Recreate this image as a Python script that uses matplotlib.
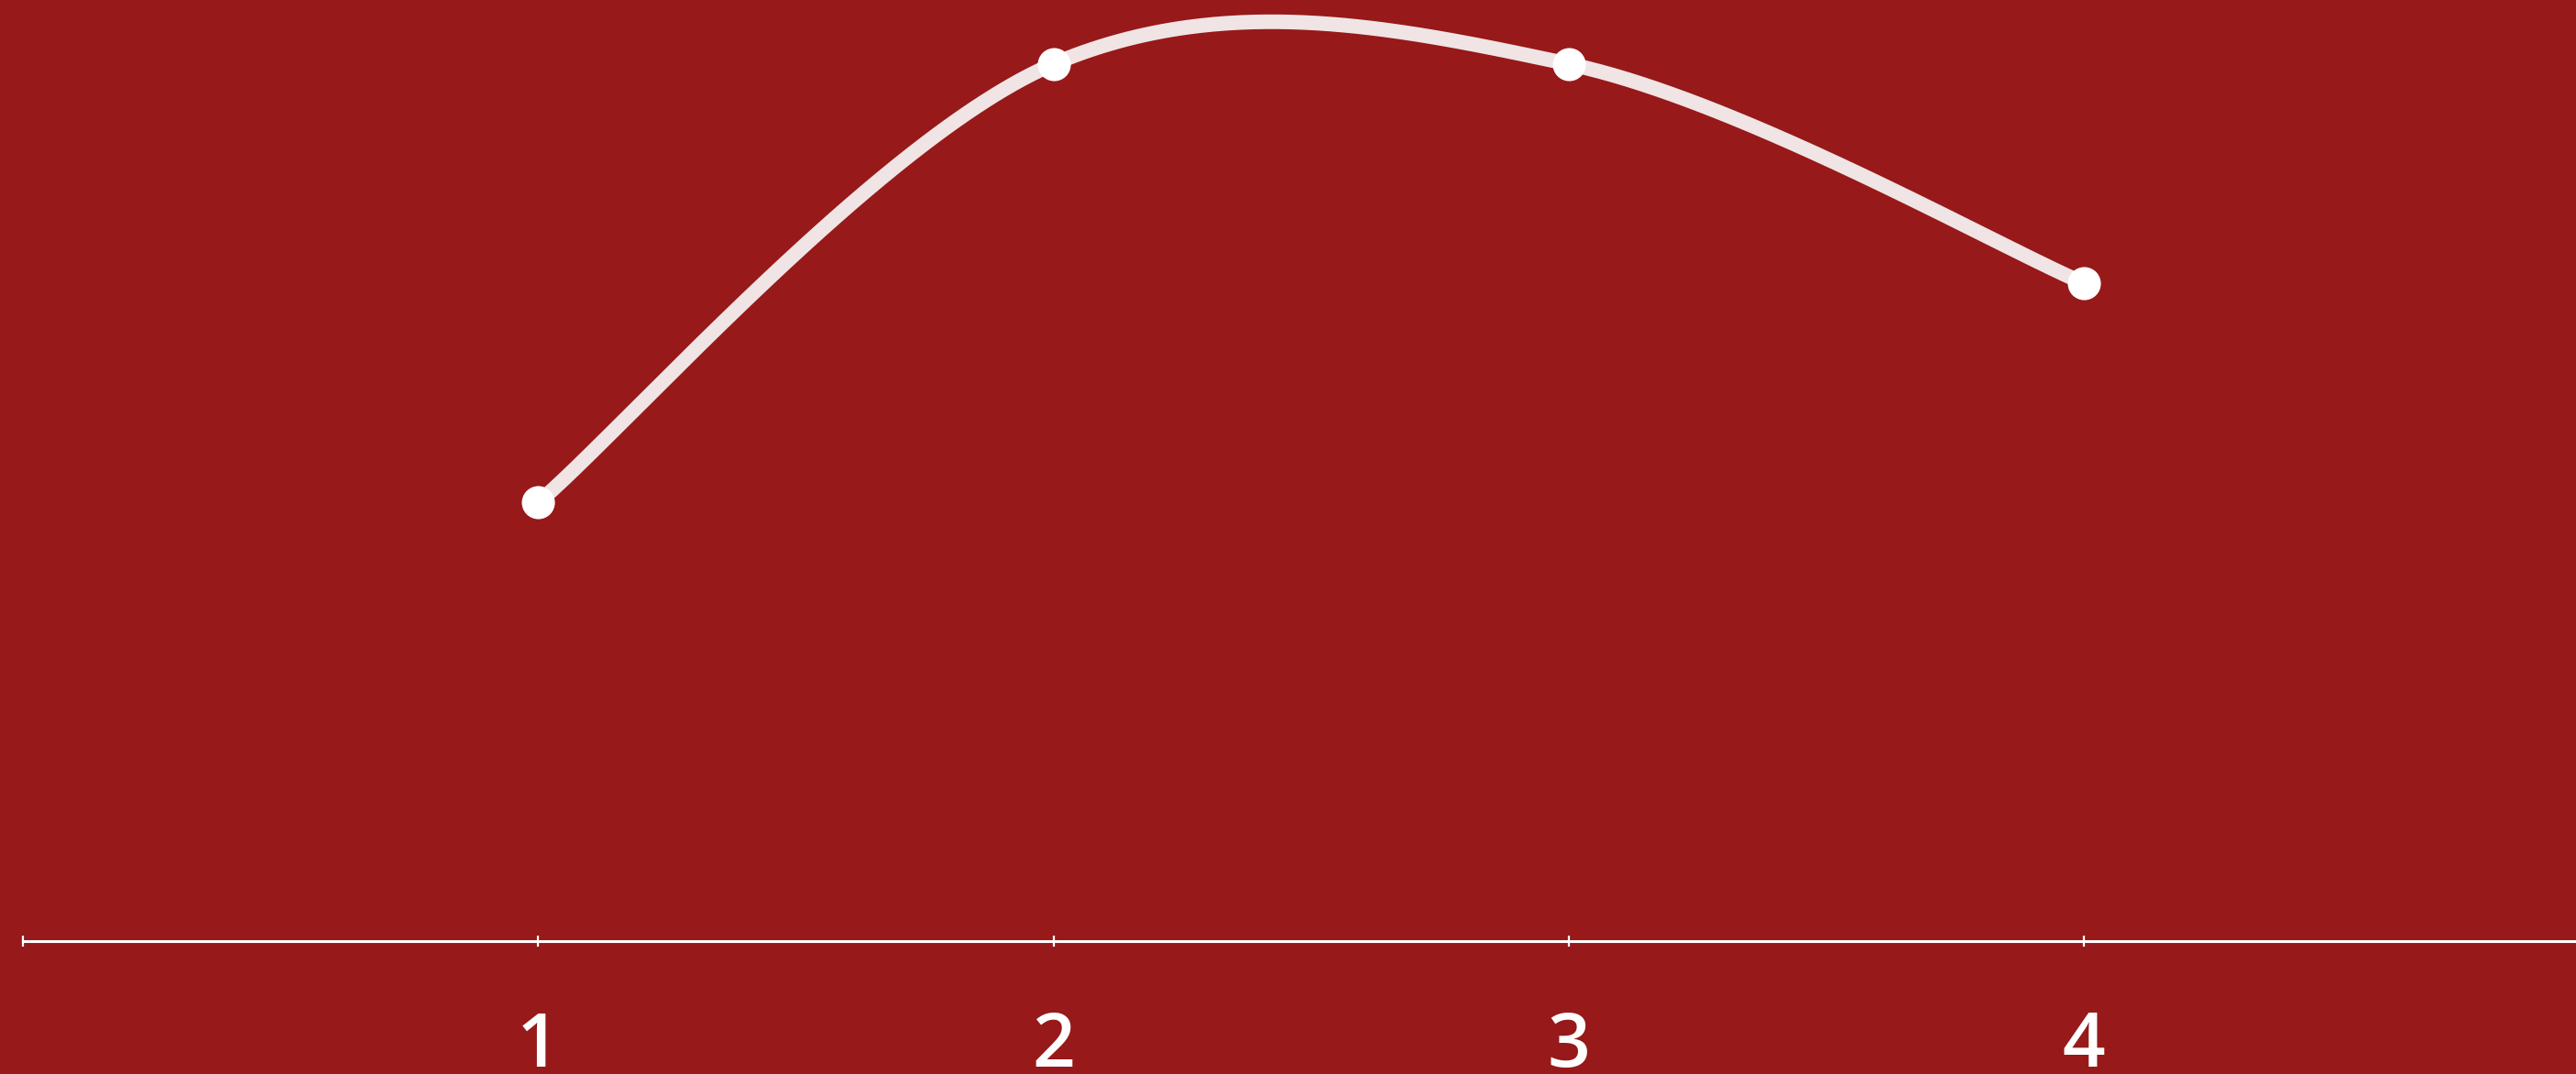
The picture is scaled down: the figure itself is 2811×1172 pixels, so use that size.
import numpy as np
import matplotlib
matplotlib.use("Agg")
import matplotlib.pyplot as plt

# Data
categories = [1, 2, 3, 4]
values = [2, 4, 4, 3]
tick_labels = ["1", "2", "3", "4"]

BG = "#97191a"
LINE = "#f0e4e4"

def catmull_rom(x, y, n=120):
    P = np.column_stack([x, y]).astype(float)
    P = np.vstack([P[0], P, P[-1]])
    out = []
    for i in range(1, len(P) - 2):
        p0, p1, p2, p3 = P[i - 1], P[i], P[i + 1], P[i + 2]
        b0 = p1
        b1 = p1 + (p2 - p0) / 6
        b2 = p2 - (p3 - p1) / 6
        b3 = p2
        t = np.linspace(0, 1, n)[:, None]
        seg = ((1 - t) ** 3) * b0 + 3 * ((1 - t) ** 2) * t * b1 + 3 * (1 - t) * t ** 2 * b2 + t ** 3 * b3
        out.append(seg if i == 1 else seg[1:])
    pts = np.vstack(out)
    return pts[:, 0], pts[:, 1]

W, H = 2811, 1172
fig = plt.figure(figsize=(W / 100, H / 100), dpi=100, facecolor=BG)
left = 25 / W
unit = 562.3
ax = fig.add_axes([left, 0, 5 * unit / W, 1])
ax.set_facecolor(BG)
ax.set_xlim(0, 5)
px_per_unit = 239.3
y0_from_bottom = H - 1027
ax.set_ylim(-y0_from_bottom / px_per_unit, (H - y0_from_bottom) / px_per_unit)

xs, ys = catmull_rom(categories, values)
ax.plot(xs, ys, color=LINE, lw=11.5, solid_capstyle="butt", zorder=2, clip_on=False)
ax.plot(categories, values, "o", color="white", ms=26, mec="none", zorder=3, clip_on=False)

for s in ["top", "right", "left"]:
    ax.spines[s].set_visible(False)
ax.spines["bottom"].set_position(("data", 0))
ax.spines["bottom"].set_color("white")
ax.spines["bottom"].set_linewidth(2.2)
ax.set_yticks([])
ax.set_xticks([0] + categories)
ax.set_xticklabels([""] + tick_labels)
ax.tick_params(axis="x", direction="inout", length=8, width=1.6, color="white",
               labelcolor="white", labelsize=59, pad=50)
for lbl in ax.get_xticklabels():
    lbl.set_family(["Open Sans", "DejaVu Sans"])
    lbl.set_fontweight("semibold")

fig.savefig("out.png", dpi=100, facecolor=BG)
